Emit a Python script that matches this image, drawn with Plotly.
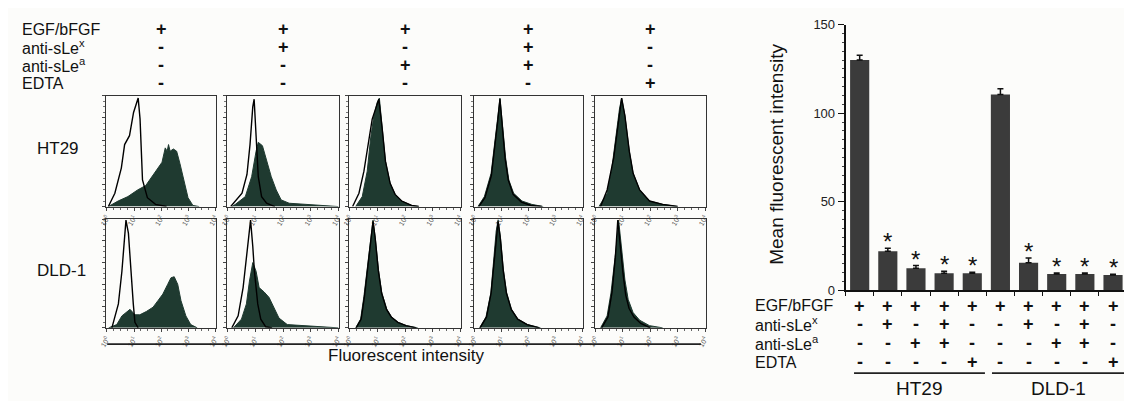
import plotly.graph_objects as go

# ---------------- data ----------------
TREATMENTS = ["EGF/bFGF", "anti-sLe<sup>x</sup>", "anti-sLe<sup>a</sup>", "EDTA"]
SIGN_EGF = ["+", "+", "+", "+", "+"]
SIGN_SLEX = ["-", "+", "-", "+", "-"]
SIGN_SLEA = ["-", "-", "+", "+", "-"]
SIGN_EDTA = ["-", "-", "-", "-", "+"]
CELL_LINES = ["HT29", "DLD-1"]
DECADE_TICKS = [0, 1, 2, 3, 4]
DECADE_LABELS = ["10<sup>0</sup>", "10<sup>1</sup>", "10<sup>2</sup>", "10<sup>3</sup>", "10<sup>4</sup>"]

# flow histograms: (log10 fluorescence, relative cell count)
ht29_1_open = [(0.05, 0), (0.29, 0.12), (0.53, 0.35), (0.65, 0.56), (0.83, 0.64), (0.98, 0.85), (1.15, 0.98),
               (1.22, 0.79), (1.31, 0.24), (1.49, 0.08), (1.79, 0.02), (2.2, 0)]
ht29_1_fill = [(0.05, 0), (0.41, 0.05), (0.77, 0.09), (1.13, 0.15), (1.43, 0.19), (1.67, 0.27), (1.85, 0.34),
               (2.03, 0.40), (2.15, 0.53), (2.22, 0.50), (2.27, 0.56), (2.33, 0.50), (2.45, 0.52), (2.57, 0.50),
               (2.69, 0.39), (2.87, 0.21), (2.99, 0.08), (3.17, 0.01), (3.4, 0)]
ht29_2_open = [(0.1, 0), (0.21, 0.03), (0.51, 0.12), (0.69, 0.29), (0.80, 0.56), (0.90, 0.90), (0.95, 0.97),
               (1.02, 0.64), (1.10, 0.27), (1.22, 0.09), (1.40, 0.03), (1.7, 0)]
ht29_2_fill = [(0.15, 0), (0.27, 0.02), (0.63, 0.09), (0.86, 0.27), (1.02, 0.50), (1.10, 0.58), (1.25, 0.55),
               (1.40, 0.41), (1.57, 0.27), (1.75, 0.15), (1.93, 0.06), (2.22, 0.03), (2.8, 0.02), (3.5, 0.01), (4.0, 0)]
ht29_3_open = [(0.10, 0), (0.33, 0.12), (0.51, 0.32), (0.63, 0.50), (0.81, 0.79), (0.93, 0.88), (1.05, 0.97),
               (1.17, 0.71), (1.29, 0.41), (1.46, 0.21), (1.64, 0.11), (1.88, 0.05), (2.24, 0.01), (2.5, 0)]
ht29_3_fill = [(0.21, 0), (0.45, 0.09), (0.63, 0.32), (0.75, 0.61), (0.87, 0.82), (0.99, 0.94), (1.07, 0.98),
               (1.17, 0.71), (1.29, 0.41), (1.46, 0.21), (1.64, 0.11), (1.88, 0.05), (2.24, 0.01), (2.5, 0)]
ht29_4_open = [(0.15, 0), (0.38, 0.08), (0.62, 0.28), (0.76, 0.55), (0.86, 0.78), (0.94, 0.97), (1.02, 0.76),
               (1.13, 0.44), (1.25, 0.24), (1.43, 0.11), (1.74, 0.04), (2.1, 0.01), (2.5, 0)]
ht29_4_fill = [(0.12, 0), (0.36, 0.09), (0.61, 0.30), (0.75, 0.56), (0.85, 0.79), (0.94, 0.98), (1.03, 0.77),
               (1.15, 0.44), (1.27, 0.24), (1.45, 0.12), (1.76, 0.05), (2.12, 0.02), (2.55, 0)]
ht29_5_open = [(0.18, 0), (0.42, 0.15), (0.66, 0.44), (0.84, 0.79), (0.95, 0.98), (1.07, 0.82), (1.23, 0.50),
               (1.37, 0.30), (1.61, 0.15), (1.97, 0.05), (2.45, 0.02), (3.0, 0)]
ht29_5_fill = [(0.12, 0), (0.42, 0.12), (0.60, 0.36), (0.75, 0.65), (0.87, 0.88), (0.95, 0.98), (1.07, 0.82),
               (1.23, 0.50), (1.37, 0.30), (1.61, 0.15), (1.97, 0.05), (2.45, 0.02), (3.0, 0)]

dld_1_open = [(0.18, 0), (0.42, 0.22), (0.55, 0.52), (0.64, 0.84), (0.70, 0.99), (0.79, 0.87), (0.88, 0.52),
              (0.97, 0.22), (1.03, 0.05), (1.15, 0)]
dld_1_fill = [(0.06, 0), (0.36, 0.03), (0.55, 0.11), (0.73, 0.15), (0.85, 0.17), (1.03, 0.12), (1.21, 0.12),
              (1.45, 0.15), (1.70, 0.19), (1.88, 0.25), (2.06, 0.31), (2.24, 0.40), (2.36, 0.46), (2.48, 0.47),
              (2.61, 0.40), (2.73, 0.25), (2.91, 0.11), (3.09, 0.03), (3.33, 0)]
dld_2_open = [(0.14, 0), (0.37, 0.11), (0.55, 0.37), (0.67, 0.67), (0.78, 0.93), (0.82, 0.99), (0.90, 0.75),
              (0.96, 0.52), (1.08, 0.22), (1.19, 0.08), (1.37, 0.01), (1.6, 0)]
dld_2_fill = [(0.20, 0), (0.49, 0.08), (0.67, 0.22), (0.78, 0.43), (0.90, 0.60), (1.02, 0.52), (1.13, 0.37),
              (1.31, 0.33), (1.49, 0.28), (1.67, 0.19), (1.85, 0.09), (2.15, 0.03), (2.85, 0.02), (3.55, 0.01), (4.0, 0)]
dld_3_open = [(0.23, 0), (0.41, 0.08), (0.53, 0.29), (0.67, 0.62), (0.79, 0.89), (0.84, 0.98), (0.92, 0.82),
              (1.03, 0.53), (1.15, 0.32), (1.33, 0.17), (1.50, 0.10), (1.74, 0.05), (2.04, 0.02), (2.4, 0)]
dld_3_fill = [(0.21, 0), (0.39, 0.08), (0.51, 0.29), (0.66, 0.62), (0.78, 0.89), (0.84, 0.99), (0.92, 0.83),
              (1.04, 0.53), (1.16, 0.32), (1.34, 0.17), (1.51, 0.10), (1.75, 0.05), (2.05, 0.02), (2.46, 0)]
dld_4_open = [(0.20, 0), (0.44, 0.10), (0.61, 0.32), (0.73, 0.62), (0.81, 0.89), (0.87, 0.98), (0.95, 0.83),
              (1.06, 0.53), (1.18, 0.32), (1.36, 0.17), (1.60, 0.08), (1.95, 0.03), (2.4, 0)]
dld_4_fill = [(0.18, 0), (0.42, 0.10), (0.60, 0.32), (0.72, 0.62), (0.80, 0.89), (0.87, 0.99), (0.96, 0.83),
              (1.07, 0.53), (1.19, 0.32), (1.37, 0.17), (1.61, 0.08), (1.97, 0.03), (2.45, 0)]
dld_5_open = [(0.22, 0), (0.45, 0.10), (0.60, 0.33), (0.72, 0.65), (0.81, 0.99), (0.90, 0.75), (1.00, 0.50),
              (1.10, 0.30), (1.22, 0.18), (1.40, 0.10), (1.65, 0.04), (2.0, 0)]
dld_5_fill = [(0.18, 0), (0.42, 0.11), (0.56, 0.32), (0.68, 0.56), (0.78, 0.80), (0.84, 0.99), (0.96, 0.67),
              (1.07, 0.44), (1.19, 0.26), (1.37, 0.14), (1.61, 0.07), (1.97, 0.02), (2.45, 0)]

HT29_OPEN = [ht29_1_open, ht29_2_open, ht29_3_open, ht29_4_open, ht29_5_open]
HT29_FILL = [ht29_1_fill, ht29_2_fill, ht29_3_fill, ht29_4_fill, ht29_5_fill]
DLD_OPEN = [dld_1_open, dld_2_open, dld_3_open, dld_4_open, dld_5_open]
DLD_FILL = [dld_1_fill, dld_2_fill, dld_3_fill, dld_4_fill, dld_5_fill]

# bar chart: mean fluorescent intensity
MFI_HT29 = [130.0, 22.1, 12.4, 9.7, 9.7]
MFI_DLD1 = [110.6, 15.6, 9.2, 9.2, 8.6]
ERR_HT29 = [2.7, 1.6, 1.6, 1.0, 0.5]
ERR_DLD1 = [3.2, 2.7, 0.6, 0.6, 0.5]
SIGNIF_HT29 = [False, True, True, True, True]
SIGNIF_DLD1 = [False, True, True, True, True]
Y_TICKS = [0, 50, 100, 150]

# ---------------- styling / layout ----------------
W, H = 1132, 401
FONT = "Liberation Sans, Arial, sans-serif"
DARK = "#1f3a30"
BAR = "#3b3b3b"
COL_PX = [(92, 203), (214, 327), (337, 450), (463, 573), (585, 697)]
ROW_PX = [(84, 199), (212, 325)]
LEFT_ROWS_Y = [15, 33, 52, 71]
RIGHT_ROWS_Y = [302, 321, 341, 361]


def px(x):
    return x / W


def py(y):
    return 1 - y / H


fig = go.Figure()
layout = dict(width=W, height=H, margin=dict(l=0, r=0, t=0, b=0),
              paper_bgcolor="#fcfcfa", plot_bgcolor="rgba(0,0,0,0)",
              showlegend=False, font=dict(family=FONT, color="#111"))
annotations = []
shapes = []

rows = [(HT29_OPEN, HT29_FILL), (DLD_OPEN, DLD_FILL)]
for r, (opens, fills) in enumerate(rows):
    for c in range(5):
        k = r * 5 + c + 1
        xa = "x" if k == 1 else f"x{k}"
        ya = "y" if k == 1 else f"y{k}"
        fill = fills[c]
        op = opens[c]
        fig.add_trace(go.Scatter(x=[p[0] for p in fill], y=[p[1] for p in fill], mode="lines",
                                 fill="tozeroy", fillcolor=DARK, line=dict(color=DARK, width=1),
                                 xaxis=xa, yaxis=ya, hoverinfo="skip"))
        fig.add_trace(go.Scatter(x=[p[0] for p in op], y=[p[1] for p in op], mode="lines",
                                 line=dict(color="#000", width=1.4), xaxis=xa, yaxis=ya, hoverinfo="skip"))
        x0, x1 = COL_PX[c]
        y0, y1 = ROW_PX[r]
        layout["xaxis" if k == 1 else f"xaxis{k}"] = dict(
            domain=[px(x0), px(x1)], anchor=ya, range=[-0.03, 4.03], showgrid=False, zeroline=False,
            showline=True, mirror=True, linecolor="#333", linewidth=1.3,
            ticks="outside", ticklen=3, tickcolor="#444", tickvals=DECADE_TICKS, ticktext=DECADE_LABELS,
            tickfont=dict(size=7, color="#555"), tickangle=-60,
            minor=dict(ticks="outside", ticklen=2, dtick=0.25, tickcolor="#666"))
        layout["yaxis" if k == 1 else f"yaxis{k}"] = dict(
            domain=[py(y1), py(y0)], anchor=xa, range=[0, 1.0], showgrid=False, zeroline=False,
            showline=True, mirror=True, linecolor="#333", linewidth=1.3,
            ticks="outside", ticklen=3, tickcolor="#444", dtick=0.2, showticklabels=False,
            minor=dict(ticks="outside", ticklen=2, dtick=0.05, tickcolor="#777"))

# left condition table
signs = [SIGN_EGF, SIGN_SLEX, SIGN_SLEA, SIGN_EDTA]
for i, label in enumerate(TREATMENTS):
    annotations.append(dict(x=px(5), y=py(LEFT_ROWS_Y[i]), xref="paper", yref="paper", text=label,
                            showarrow=False, xanchor="left", yanchor="middle", font=dict(size=16)))
    for c in range(5):
        cx = (COL_PX[c][0] + COL_PX[c][1]) / 2
        annotations.append(dict(x=px(cx), y=py(LEFT_ROWS_Y[i]), xref="paper", yref="paper",
                                text="<b>%s</b>" % signs[i][c], showarrow=False, xanchor="center",
                                yanchor="middle", font=dict(size=18)))

# cell line labels for histogram rows
for r, name in enumerate(CELL_LINES):
    cy = (ROW_PX[r][0] + ROW_PX[r][1]) / 2 - 3
    annotations.append(dict(x=px(20), y=py(cy), xref="paper", yref="paper", text=name, showarrow=False,
                            xanchor="left", yanchor="middle", font=dict(size=17)))

shapes.append(dict(type="line", xref="paper", yref="paper", x0=px(93), x1=px(692), y0=py(342), y1=py(342),
                   line=dict(color="#222", width=1.8)))
annotations.append(dict(x=px(394), y=py(354), xref="paper", yref="paper", text="Fluorescent intensity",
                        showarrow=False, xanchor="center", yanchor="middle", font=dict(size=17)))

# bar chart
vals = MFI_HT29 + MFI_DLD1
errs = ERR_HT29 + ERR_DLD1
sig = SIGNIF_HT29 + SIGNIF_DLD1
xs = list(range(len(vals)))
fig.add_trace(go.Bar(x=xs, y=vals, width=0.68, marker=dict(color=BAR, line=dict(width=0)),
                     error_y=dict(type="data", array=errs, arrayminus=[0] * len(errs), color="#111",
                                  thickness=1.5, width=3),
                     xaxis="x11", yaxis="y11", hoverinfo="skip"))
for i in xs:
    if sig[i]:
        annotations.append(dict(x=i, y=vals[i] + errs[i], xref="x11", yref="y11", text="*", showarrow=False,
                                xanchor="center", yanchor="bottom", yshift=-9, font=dict(size=24)))
layout["xaxis11"] = dict(domain=[px(838), px(1122)], anchor="y11", range=[-0.5, len(vals) - 0.5],
                         showgrid=False, zeroline=False, showline=True, linecolor="#111", linewidth=1.8,
                         ticks="outside", ticklen=4, tickcolor="#111",
                         tickvals=[i - 0.5 for i in range(len(vals) + 1)], showticklabels=False)
layout["yaxis11"] = dict(domain=[py(286), py(10)], anchor="x11", range=[0, 150], showgrid=False, zeroline=False,
                         showline=True, linecolor="#111", linewidth=1.8, ticks="outside", ticklen=6,
                         tickcolor="#111", tickvals=Y_TICKS, tickfont=dict(size=13, color="#222"),
                         minor=dict(ticks="outside", ticklen=2, dtick=5, tickcolor="#444"))

annotations.append(dict(x=px(768), y=py(145), xref="paper", yref="paper", text="Mean fluorescent intensity",
                        textangle=-90, showarrow=False, xanchor="center", yanchor="middle", font=dict(size=19)))

full_signs = [s + s for s in signs]
for i, label in enumerate(TREATMENTS):
    annotations.append(dict(x=px(745), y=py(RIGHT_ROWS_Y[i]), xref="paper", yref="paper", text=label,
                            showarrow=False, xanchor="left", yanchor="middle", font=dict(size=16)))
    for j in xs:
        annotations.append(dict(x=j, y=py(RIGHT_ROWS_Y[i]), xref="x11", yref="paper",
                                text="<b>%s</b>" % full_signs[i][j], showarrow=False, xanchor="center",
                                yanchor="middle", font=dict(size=18)))

groups = [(-0.2, 4.45), (4.7, 9.45)]
for g, name in enumerate(CELL_LINES):
    a, b = groups[g]
    shapes.append(dict(type="line", xref="x11", yref="paper", x0=a, x1=b, y0=py(372), y1=py(372),
                       line=dict(color="#222", width=1.8)))
    annotations.append(dict(x=(a + b) / 2, y=py(388), xref="x11", yref="paper", text=name, showarrow=False,
                            xanchor="center", yanchor="middle", font=dict(size=19)))

layout["annotations"] = annotations
layout["shapes"] = shapes
fig.update_layout(**layout)
fig.write_html("out.html")
